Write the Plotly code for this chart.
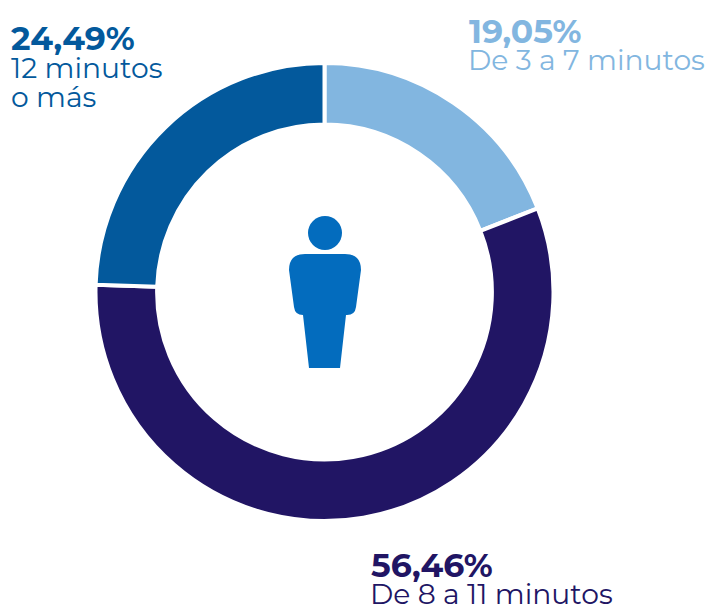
import plotly.graph_objects as go

categories = ["De 3 a 7 minutos", "De 8 a 11 minutos", "12 minutos<br>o más"]
values = [19.05, 56.46, 24.49]
value_labels = ["19,05%", "56,46%", "24,49%"]
colors = ["#82B6E0", "#211564", "#03599C"]
icon_color = "#036CBE"

W, H = 711, 607
cx, cy, R = 324.5, 292, 229
fig = go.Figure(go.Pie(
    values=values, labels=categories, sort=False, direction="clockwise", rotation=0,
    hole=0.731, textinfo="none", hoverinfo="skip", showlegend=False,
    marker=dict(colors=colors, line=dict(color="white", width=4)),
    domain=dict(x=[(cx-R)/W, (cx+R)/W], y=[1-(cy+R)/H, 1-(cy-R)/H]),
))

def px(x): return x/W
def py(y): return 1-y/H

font = "Montserrat, Lato, Open Sans, sans-serif"
ann = [
    (10, 38, value_labels[2], colors[2], True),
    (10, 68, "12 minutos", colors[2], False),
    (10, 97, "o más", colors[2], False),
    (468, 31, value_labels[0], colors[0], True),
    (467, 60, categories[0], colors[0], False),
    (370, 565, value_labels[1], colors[1], True),
    (369, 594, categories[1], colors[1], False),
]
annotations = [dict(x=px(x), y=py(y), xref="paper", yref="paper", xanchor="left", yanchor="middle",
                    showarrow=False, text=f"<b>{t}</b>" if b else t, xshift=-1,
                    font=dict(family=font, size=33 if b else 28.2, color=c))
               for x, y, t, c, b in ann]

shapes = [
    dict(type="circle", xref="paper", yref="paper", x0=px(308), x1=px(342), y0=py(250), y1=py(216),
         fillcolor=icon_color, line_width=0),
    dict(type="path", xref="paper", yref="paper", fillcolor=icon_color, line_width=0,
         path=" ".join([
             f"M {px(305)} {py(254)}", f"L {px(345)} {py(254)}",
             f"Q {px(361)} {py(254)} {px(361)} {py(270)}",
             f"L {px(356)} {py(307)}", f"Q {px(355)} {py(315)} {px(347)} {py(315)}",
             f"L {px(346)} {py(315)}", f"L {px(340)} {py(368)}", f"L {px(309)} {py(368)}", f"L {px(303)} {py(315)}",
             f"Q {px(295)} {py(315)} {px(294)} {py(307)}", f"L {px(289)} {py(270)}",
             f"Q {px(289)} {py(254)} {px(305)} {py(254)} Z",
         ])),
]
fig.update_layout(width=W, height=H, margin=dict(l=0, r=0, t=0, b=0), paper_bgcolor="white",
                  annotations=annotations, shapes=shapes)
fig.write_html("out.html", config=dict(displayModeBar=False),
               post_script="document.body.style.margin='0';document.body.style.overflow='hidden';")
